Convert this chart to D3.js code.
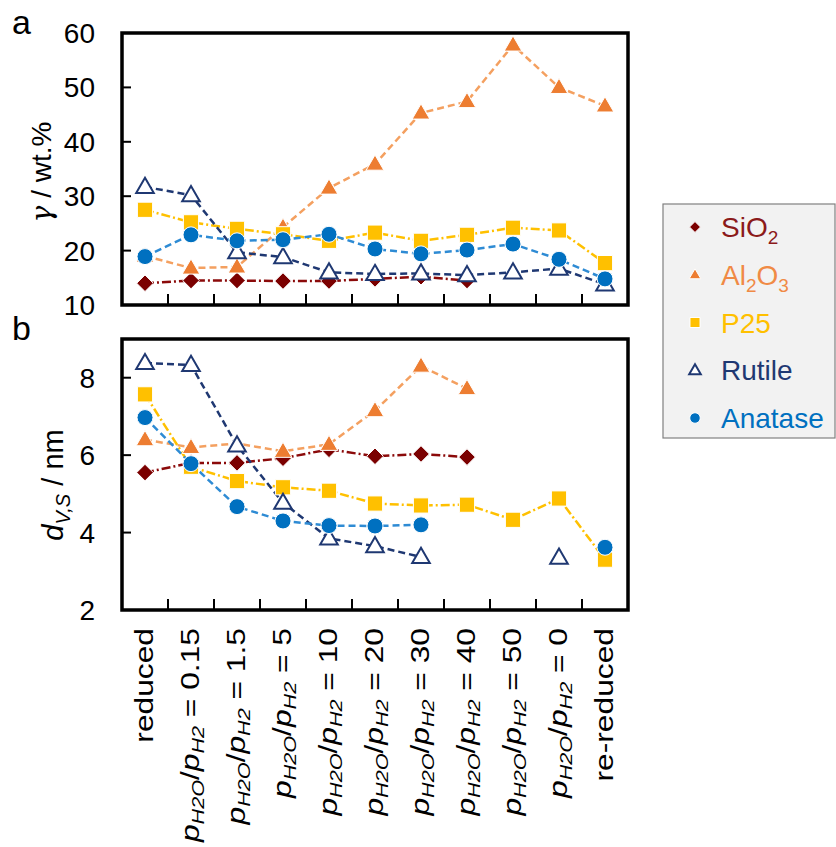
<!DOCTYPE html>
<html>
<head>
<meta charset="utf-8">
<script src="https://cdn.jsdelivr.net/npm/d3@7"></script>
<style>
  body { margin: 0; background: #fff; }
  svg { font-family: "Liberation Sans", Arial, sans-serif; }
</style>
</head>
<body>
<div id="chart"></div>
<script>
// categories along x (ratio values; first and last are plain labels)
const categories = ["reduced", "0.15", "1.5", "5", "10", "20", "30", "40", "50", "0", "re-reduced"];

// panel a: gamma / wt.%
const gammaSiO2    = [14.0, 14.5, 14.5, 14.4, 14.4, 14.8, 15.2, 14.5, null, null, null];
const gammaAl2O3   = [19.0, 16.8, 17.0, 24.3, 31.5, 35.9, 45.3, 47.4, 57.8, 50.0, 46.6];
const gammaP25     = [27.5, 25.2, 24.0, 23.0, 21.8, 23.3, 21.8, 22.9, 24.2, 23.7, 17.7];
const gammaRutile  = [31.7, 30.2, 19.7, 18.8, 16.0, 15.7, 15.8, 15.5, 16.0, 16.7, 13.8];
const gammaAnatase = [18.9, 22.9, 21.8, 22.0, 23.0, 20.3, 19.4, 20.1, 21.2, 18.4, 14.8];

// panel b: d_V,S / nm
const dSiO2    = [5.55, 5.8, 5.8, 5.92, 6.15, 5.97, 6.03, 5.95, null, null, null];
const dAl2O3   = [6.4, 6.2, 6.3, 6.1, 6.28, 7.15, 8.3, 7.72, null, null, null];
const dP25     = [7.57, 5.7, 5.33, 5.17, 5.08, 4.75, 4.7, 4.72, 4.33, 4.88, 3.3];
const dRutile  = [8.38, 8.33, 6.25, 4.77, 3.85, 3.65, 3.37, null, null, 3.35, null];
const dAnatase = [6.97, 5.78, 4.67, 4.3, 4.18, 4.17, 4.2, null, null, null, 3.62];

const gammaTicks = [10, 20, 30, 40, 50, 60];
const dTicks = [2, 4, 6, 8];

const series = [
  { name: "SiO2", sub: ["SiO", "2"], color: "#7b0000", line: "#8b0a0a", text: "#8b1a1a", symbol: "diamond", dash: "9,3,2,3", a: gammaSiO2, b: dSiO2 },
  { name: "Al2O3", sub: ["Al", "2", "O", "3"], color: "#ed7d31", line: "#f4a060", text: "#f08a45", symbol: "triangle", dash: "7,4", a: gammaAl2O3, b: dAl2O3 },
  { name: "P25", sub: ["P25"], color: "#ffc000", line: "#ffc000", text: "#ffc000", symbol: "square", dash: "9,3,2,3", a: gammaP25, b: dP25 },
  { name: "Rutile", sub: ["Rutile"], color: "#1f3872", line: "#1f3872", text: "#1f3872", symbol: "triangleOpen", dash: "7,4", a: gammaRutile, b: dRutile },
  { name: "Anatase", sub: ["Anatase"], color: "#0070c0", line: "#2e8bd4", text: "#0070c0", symbol: "circle", dash: "7,4", a: gammaAnatase, b: dAnatase }
];

const W = 836, H = 847;
const svg = d3.select("#chart").append("svg").attr("width", W).attr("height", H);

const left = 122, right = 628;
const x = d3.scaleBand().domain(categories).range([left, right]);
const cx = c => x(c) + x.bandwidth() / 2;

function symbolPath(kind, s) {
  if (kind === "diamond") return `M0,${-s}L${s},0L0,${s}L${-s},0Z`;
  if (kind === "square") return `M${-s},${-s}H${s}V${s}H${-s}Z`;
  if (kind === "circle") return d3.symbol(d3.symbolCircle, Math.PI * s * s)();
  const h = s * 1.9;
  return `M0,${-h * 0.6}L${s * 1.1},${h * 0.4}L${-s * 1.1},${h * 0.4}Z`;
}
const markerSize = { diamond: 8.3, square: 7.6, circle: 8, triangle: 8, triangleOpen: 8 };

function panel(top, bottom, domain, ticks, key, letter) {
  const y = d3.scaleLinear().domain(domain).range([bottom, top]);
  const g = svg.append("g");

  // inner ticks
  g.append("g").selectAll("line").data(ticks.filter(t => t !== domain[1]))
    .join("line")
    .attr("x1", left).attr("x2", left + 9)
    .attr("y1", d => y(d)).attr("y2", d => y(d))
    .attr("stroke", "#000").attr("stroke-width", 2);
  g.append("g").selectAll("line").data(categories.slice(1))
    .join("line")
    .attr("x1", d => x(d)).attr("x2", d => x(d))
    .attr("y1", bottom).attr("y2", bottom - 11)
    .attr("stroke", "#000").attr("stroke-width", 2);

  g.append("g").selectAll("text").data(ticks)
    .join("text")
    .attr("x", 95).attr("y", d => y(d)).attr("dy", "0.36em")
    .attr("text-anchor", "end")
    .style("font-size", "28px")
    .text(d => d);

  const line = d3.line()
    .defined(d => d.v != null)
    .x(d => cx(d.c)).y(d => y(d.v));

  series.forEach(s => {
    const pts = categories.map((c, i) => ({ c, v: s[key][i] }));
    g.append("path")
      .datum(pts)
      .attr("d", line)
      .attr("fill", "none")
      .attr("stroke", s.line)
      .attr("stroke-width", 2.5)
      .attr("stroke-dasharray", s.dash);
  });
  series.forEach(s => {
    const pts = categories.map((c, i) => ({ c, v: s[key][i] })).filter(d => d.v != null);
    g.append("g").selectAll("path").data(pts)
      .join("path")
      .attr("transform", d => `translate(${cx(d.c)},${y(d.v)})`)
      .attr("d", symbolPath(s.symbol, markerSize[s.symbol]))
      .attr("fill", s.symbol === "triangleOpen" ? "#fff" : s.color)
      .attr("stroke", s.symbol === "triangleOpen" ? s.color : "#fff")
      .attr("stroke-width", s.symbol === "triangleOpen" ? 2 : 1);
  });

  g.append("rect")
    .attr("x", left).attr("y", top)
    .attr("width", right - left).attr("height", bottom - top)
    .attr("fill", "none").attr("stroke", "#000").attr("stroke-width", 3.5);

  svg.append("text")
    .attr("x", 12).attr("y", top + 1)
    .style("font-size", "34px")
    .text(letter);
  return y;
}

panel(33, 305, [10, 60], gammaTicks, "a", "a");
panel(339, 610, [2, 9], dTicks, "b", "b");

// y-axis titles
const ta = svg.append("text")
  .attr("transform", "translate(51,172) rotate(-90)")
  .attr("text-anchor", "middle")
  .style("font-size", "28px");
ta.append("tspan").style("font-style", "italic").style("font-family", "'DejaVu Serif', serif").text("γ");
ta.append("tspan").text(" / wt.%");

const tb = svg.append("text")
  .attr("transform", "translate(63,485) rotate(-90)")
  .attr("text-anchor", "middle")
  .style("font-size", "29px");
tb.append("tspan").style("font-style", "italic").text("d");
tb.append("tspan").style("font-style", "italic").style("font-size", "20px").attr("dy", 7).text("V,S");
tb.append("tspan").attr("dy", -7).text(" / nm");

// x category labels
const xl = svg.append("g").selectAll("text").data(categories)
  .join("text")
  .attr("transform", d => `translate(${cx(d) + 8},628) rotate(-90) scale(1.27,1)`)
  .attr("text-anchor", "end")
  .style("font-size", "25px");
xl.each(function (d) {
  const t = d3.select(this);
  if (d === "reduced" || d === "re-reduced") { t.text(d); return; }
  t.append("tspan").style("font-style", "italic").text("p");
  t.append("tspan").style("font-style", "italic").style("font-size", "17px").attr("dy", 5).text("H2O");
  t.append("tspan").attr("dy", -5).text("/");
  t.append("tspan").style("font-style", "italic").text("p");
  t.append("tspan").style("font-style", "italic").style("font-size", "17px").attr("dy", 5).text("H2");
  t.append("tspan").attr("dy", -5).text(" = " + d);
});

// legend
const lg = svg.append("g");
lg.append("rect")
  .attr("x", 663).attr("y", 204).attr("width", 172).attr("height", 234)
  .attr("fill", "#f2f2f2").attr("stroke", "#808080").attr("stroke-width", 1.2);
const legendY = d3.scalePoint().domain(series.map(s => s.name)).range([227, 418]);
series.forEach(s => {
  const yy = legendY(s.name);
  lg.append("path")
    .attr("transform", `translate(695,${yy})`)
    .attr("d", symbolPath(s.symbol, markerSize[s.symbol] * 0.66))
    .attr("fill", s.symbol === "triangleOpen" ? "#fff" : s.color)
    .attr("stroke", s.symbol === "triangleOpen" ? s.color : "#fff")
    .attr("stroke-width", s.symbol === "triangleOpen" ? 2 : 1);
  const t = lg.append("text")
    .attr("x", 721).attr("y", yy).attr("dy", "0.36em")
    .attr("fill", s.text)
    .style("font-size", "28px");
  s.sub.forEach((part, i) => {
    const isSub = i % 2 === 1;
    t.append("tspan")
      .style("font-size", isSub ? "19px" : "28px")
      .attr("dy", isSub ? 7 : (i > 0 ? -7 : null))
      .text(part);
  });
});
</script>
</body>
</html>
